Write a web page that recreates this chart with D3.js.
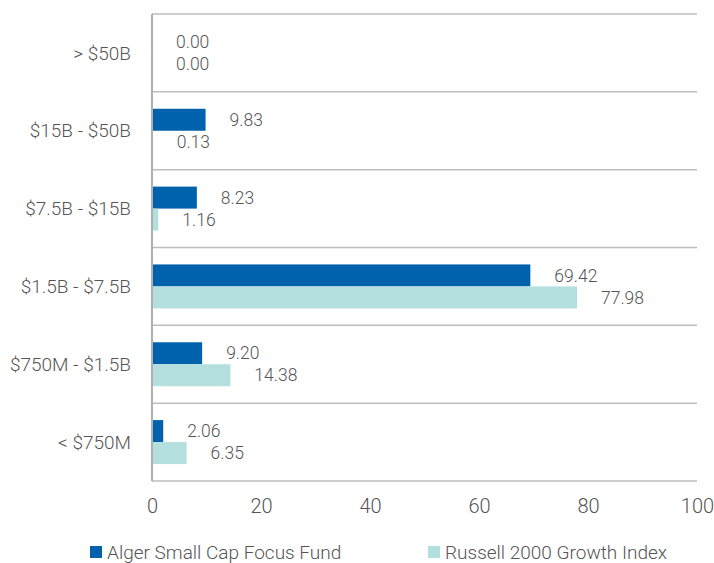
<!DOCTYPE html>
<html>
<head>
<meta charset="utf-8">
<script src="https://cdn.jsdelivr.net/npm/d3@7"></script>
<style>
  body { margin: 0; background: #fff; }
  svg text { font-family: "Roboto", "Liberation Sans", sans-serif; font-weight: 300; fill: #555; }
</style>
</head>
<body>
<div id="chart"></div>
<script>
// market cap buckets, top to bottom
const categories = ["> $50B", "$15B - $50B", "$7.5B - $15B", "$1.5B - $7.5B", "$750M - $1.5B", "< $750M"];
const fundValues = [0.00, 9.83, 8.23, 69.42, 9.20, 2.06];
const indexValues = [0.00, 0.13, 1.16, 77.98, 14.38, 6.35];
const seriesNames = ["Alger Small Cap Focus Fund", "Russell 2000 Growth Index"];
const xTicks = [0, 20, 40, 60, 80, 100];

const width = 714, height = 563,
    margin = ({ top: 14, right: 17, bottom: 82, left: 152 });
const colors = ["#0062ad", "#b3e0df"];

const svg = d3.select("#chart")
    .append("svg")
    .attr("width", width)
    .attr("height", height);

let x = d3.scaleLinear()
    .domain([0, 100])
    .range([margin.left, width - margin.right]);

let y = d3.scaleBand()
    .domain(categories)
    .range([margin.top, height - margin.bottom]);

let inner = d3.scaleBand()
    .domain([0, 1])
    .range([0, y.bandwidth()])
    .paddingOuter(0.77)
    .paddingInner(0);

// horizontal separators
const bounds = categories.map(c => y(c)).concat([y.range()[1]]);
svg.append("g")
    .selectAll("line")
    .data(bounds)
    .join("line")
    .attr("x1", margin.left)
    .attr("x2", width - margin.right)
    .attr("y1", d => d)
    .attr("y2", d => d)
    .attr("stroke", "#bdbdbd")
    .attr("stroke-width", 1.5);

const rows = categories.map((c, i) => ({ cat: c, vals: [fundValues[i], indexValues[i]] }));

const group = svg.append("g")
    .selectAll("g")
    .data(rows)
    .join("g")
    .attr("transform", d => `translate(0,${y(d.cat)})`);

group.selectAll("rect")
    .data(d => d.vals)
    .join("rect")
    .attr("x", x(0))
    .attr("y", (d, i) => inner(i))
    .attr("width", d => x(d) - x(0))
    .attr("height", inner.bandwidth())
    .attr("fill", (d, i) => colors[i]);

group.selectAll("text")
    .data(d => d.vals)
    .join("text")
    .attr("x", d => x(d) + 24)
    .attr("y", (d, i) => inner(i) + inner.bandwidth() / 2)
    .attr("dy", "0.35em")
    .attr("font-size", 17.5)
    .text(d => d.toFixed(2));

// category labels
svg.append("g")
    .selectAll("text")
    .data(categories)
    .join("text")
    .attr("x", margin.left - 21)
    .attr("y", d => y(d) + y.bandwidth() / 2)
    .attr("dy", "0.35em")
    .attr("text-anchor", "end")
    .attr("font-size", 19)
    .text(d => d);

// left axis line
svg.append("line")
    .attr("x1", x(0)).attr("x2", x(0))
    .attr("y1", margin.top).attr("y2", height - margin.bottom)
    .attr("stroke", "#b0b0b0")
    .attr("stroke-width", 2);

// x axis labels
const xAxis = svg.append("g")
    .attr("transform", `translate(0,${height - margin.bottom})`)
    .call(d3.axisBottom(x).tickValues(xTicks).tickSize(0).tickPadding(18));
xAxis.select(".domain").remove();
xAxis.selectAll("text")
    .attr("font-size", 20)
    .attr("font-family", null)
    .attr("fill", "#555");

// legend
const legendX = [90, 428];
const legend = svg.append("g")
    .selectAll("g")
    .data(seriesNames)
    .join("g")
    .attr("transform", (d, i) => `translate(${legendX[i]},552)`);
legend.append("rect")
    .attr("y", -6)
    .attr("width", 12)
    .attr("height", 12)
    .attr("fill", (d, i) => colors[i]);
legend.append("text")
    .attr("x", 17)
    .attr("dy", "0.35em")
    .attr("font-size", 19)
    .text(d => d);
</script>
</body>
</html>
